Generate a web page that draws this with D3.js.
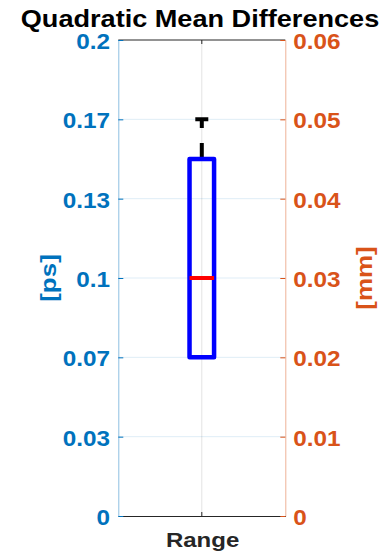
<!DOCTYPE html>
<html>
<head>
<meta charset="utf-8">
<script src="https://cdn.jsdelivr.net/npm/d3@7"></script>
<style>
  html, body { margin: 0; padding: 0; background: #fff; }
  svg { display: block; font-family: "Liberation Sans", Arial, Helvetica, sans-serif; }
</style>
</head>
<body>
<svg id="chart" width="389" height="555"></svg>
<script>
// Box statistics for the single "Range" group, in picoseconds
const categories = ["Range"];
const boxQ1 = [0.0667];
const boxMedian = [0.1];
const boxQ3 = [0.15];
const whiskerLow = [0.0667];
const whiskerHigh = [0.1667];

// Tick values and their labels for both y axes
const leftTicks = [0, 1 / 30, 2 / 30, 0.1, 4 / 30, 5 / 30, 0.2];
const leftTickLabels = ["0", "0.03", "0.07", "0.1", "0.13", "0.17", "0.2"];
const rightTicks = [0, 0.01, 0.02, 0.03, 0.04, 0.05, 0.06];
const rightTickLabels = ["0", "0.01", "0.02", "0.03", "0.04", "0.05", "0.06"];

const title = "Quadratic Mean Differences";
const leftLabel = "[ps]";
const rightLabel = "[mm]";

const BLUE = "#0072BD";
const ORANGE = "#D95319";
const DARK = "#262626";
const STRETCH = 1.13; // horizontal widening of the bold labels

const svg = d3.select("#chart");
const L = 118.3, R = 285.3, T = 40, B = 516;

const x = d3.scaleBand().domain(categories).range([L, R]);
const y = d3.scaleLinear().domain([0, 0.2]).range([B, T]);
const y2 = d3.scaleLinear().domain([0, 0.06]).range([B, T]);

// Grid
const grid = svg.append("g");
grid.selectAll("line.h").data(leftTicks.slice(1, -1)).join("line")
  .attr("x1", L).attr("x2", R)
  .attr("y1", d => y(d)).attr("y2", d => y(d))
  .attr("stroke", BLUE).attr("stroke-opacity", 0.13).attr("stroke-width", 1);
grid.selectAll("line.v").data(categories).join("line")
  .attr("x1", d => x(d) + x.bandwidth() / 2).attr("x2", d => x(d) + x.bandwidth() / 2)
  .attr("y1", T).attr("y2", B)
  .attr("stroke", DARK).attr("stroke-opacity", 0.13).attr("stroke-width", 1);

// Top and bottom frame lines with the category tick
svg.append("line").attr("x1", L).attr("x2", R).attr("y1", T).attr("y2", T)
  .attr("stroke", DARK).attr("stroke-width", 1);
const xAxis = svg.append("g").attr("transform", `translate(0,${B})`)
  .call(d3.axisBottom(x).tickSize(-4).tickSizeOuter(0).tickPadding(10));
xAxis.select(".domain").attr("stroke", DARK);
xAxis.selectAll(".tick line").attr("stroke", DARK);
xAxis.selectAll(".tick text").remove();
svg.selectAll("line.topTick").data(categories).join("line")
  .attr("x1", d => x(d) + x.bandwidth() / 2).attr("x2", d => x(d) + x.bandwidth() / 2)
  .attr("y1", T).attr("y2", T + 4).attr("stroke", DARK);

// Category label
svg.selectAll("g.cat").data(categories).join("g")
  .attr("transform", d => `translate(${x(d) + x.bandwidth() / 2 + 0.8},547) scale(1.2,1)`)
  .append("text")
  .attr("text-anchor", "middle").attr("font-size", 20).attr("font-weight", "bold")
  .attr("fill", DARK).text(d => d);

// Left axis
const yAxisL = svg.append("g").attr("transform", `translate(${L},0)`)
  .call(d3.axisLeft(y).tickValues(leftTicks).tickFormat((d, i) => leftTickLabels[i])
    .tickSizeInner(-5).tickSizeOuter(0).tickPadding(8));
yAxisL.select(".domain").attr("stroke", BLUE).attr("stroke-opacity", 0.45);
yAxisL.selectAll(".tick line").attr("stroke", BLUE);
yAxisL.selectAll(".tick text")
  .attr("fill", BLUE).attr("font-size", 21.5).attr("font-weight", "bold")
  .attr("font-family", "Liberation Sans, Arial, sans-serif")
  .attr("x", -8.3 / STRETCH).attr("dy", "0.4em")
  .attr("transform", `scale(${STRETCH},1)`);

// Right axis
const yAxisR = svg.append("g").attr("transform", `translate(${R},0)`)
  .call(d3.axisRight(y2).tickValues(rightTicks).tickFormat((d, i) => rightTickLabels[i])
    .tickSizeInner(-5).tickSizeOuter(0).tickPadding(8));
yAxisR.select(".domain").attr("stroke", ORANGE).attr("stroke-opacity", 0.45);
yAxisR.selectAll(".tick line").attr("stroke", ORANGE);
yAxisR.selectAll(".tick text")
  .attr("fill", ORANGE).attr("font-size", 21.5).attr("font-weight", "bold")
  .attr("font-family", "Liberation Sans, Arial, sans-serif")
  .attr("x", 8 / STRETCH).attr("dy", "0.4em")
  .attr("transform", `scale(${STRETCH},1)`);

// Axis titles
svg.append("g").attr("transform", `translate(55.5,${(T + B) / 2}) rotate(-90) scale(1.18,1)`)
  .append("text").attr("text-anchor", "middle").attr("font-size", 22).attr("font-weight", "bold")
  .attr("fill", BLUE).text(leftLabel);
svg.append("g").attr("transform", `translate(372,${(T + B) / 2}) rotate(-90) scale(1.18,1)`)
  .append("text").attr("text-anchor", "middle").attr("font-size", 22).attr("font-weight", "bold")
  .attr("fill", ORANGE).text(rightLabel);

// Title
svg.append("g").attr("transform", "translate(200,27) scale(1.13,1)")
  .append("text").attr("text-anchor", "middle").attr("font-size", 24).attr("font-weight", "bold")
  .attr("fill", "#000").text(title);

// Box plot
const boxW = x.bandwidth() * 0.147;
const capW = boxW * 0.53;
const boxes = svg.selectAll("g.box").data(categories).join("g")
  .attr("class", "box");

// upper whisker (dashed) and cap
boxes.append("line")
  .attr("x1", d => x(d) + x.bandwidth() / 2).attr("x2", d => x(d) + x.bandwidth() / 2)
  .attr("y1", (d, i) => y(boxQ3[i])).attr("y2", (d, i) => y(whiskerHigh[i]))
  .attr("stroke", "#000").attr("stroke-width", 4).attr("stroke-dasharray", "16,15");
boxes.append("line")
  .attr("x1", d => x(d) + x.bandwidth() / 2).attr("x2", d => x(d) + x.bandwidth() / 2)
  .attr("y1", (d, i) => y(boxQ1[i])).attr("y2", (d, i) => y(whiskerLow[i]))
  .attr("stroke", "#000").attr("stroke-width", 4).attr("stroke-dasharray", "16,15");
boxes.append("line")
  .attr("x1", d => x(d) + x.bandwidth() / 2 - capW / 2).attr("x2", d => x(d) + x.bandwidth() / 2 + capW / 2)
  .attr("y1", (d, i) => y(whiskerHigh[i])).attr("y2", (d, i) => y(whiskerHigh[i]))
  .attr("stroke", "#000").attr("stroke-width", 4);

// box
boxes.append("rect")
  .attr("x", d => x(d) + x.bandwidth() / 2 - boxW / 2)
  .attr("width", boxW)
  .attr("y", (d, i) => y(boxQ3[i]))
  .attr("height", (d, i) => y(boxQ1[i]) - y(boxQ3[i]))
  .attr("fill", "none").attr("stroke", "#0000FF").attr("stroke-width", 4.5)
  .attr("stroke-linejoin", "round");

// median
boxes.append("line")
  .attr("x1", d => x(d) + x.bandwidth() / 2 - boxW / 2).attr("x2", d => x(d) + x.bandwidth() / 2 + boxW / 2)
  .attr("y1", (d, i) => y(boxMedian[i])).attr("y2", (d, i) => y(boxMedian[i]))
  .attr("stroke", "#FF0000").attr("stroke-width", 4);
</script>
</body>
</html>
